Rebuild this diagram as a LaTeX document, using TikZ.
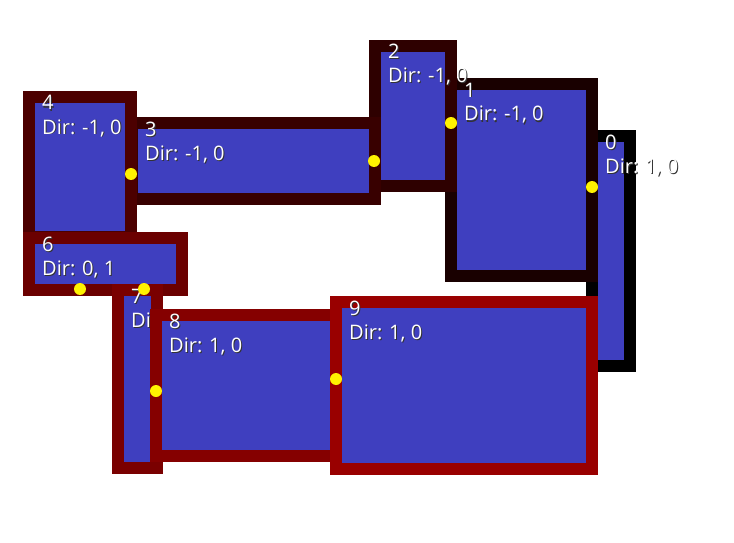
\documentclass[tikz,border=0pt]{standalone}
\usepackage{fontspec}
\setmainfont{Open Sans}
\definecolor{fillb}{HTML}{3F3FBF}
\tikzset{x=1pt,y=-1pt,
 lbl/.style={anchor=base west,inner sep=0pt,font=\fontsize{20}{20}\selectfont},
 dot/.style={circle,fill=yellow,inner sep=0pt,minimum size=12pt}}
\newcommand{\roombox}[7]{% name, x1,y1,x2,y2, color, dir
 \fill[#6] (#2-12,#3-12) rectangle (#4+12,#5+12);
 \fill[fillb] (#2,#3) rectangle (#4,#5);
 \node[lbl,black!80] at (#2+8,#3+8) {#1};
 \node[lbl,white] (n#1) at (#2+7,#3+7) {#1};
 \node[lbl,black!80] at (#2+8,#3+32) {Dir: #7};
 \node[lbl,white] (t#1) at (#2+7,#3+31) {Dir: #7};}
\begin{document}
\begin{tikzpicture}
\useasboundingbox (0,0) rectangle (734,543);
\fill[white] (0,0) rectangle (734,543);
\roombox{0}{598}{142}{624}{360}{black}{1, 0}
\roombox{1}{457}{90}{586}{270}{black!90!red}{-1, 0}
\roombox{2}{381}{52}{445}{180}{black!82!red}{-1, 0}
\roombox{3}{138}{129}{369}{193}{black!78!red}{-1, 0}
\roombox{4}{35}{103}{125}{231}{black!70!red}{-1, 0}
\roombox{6}{35}{244}{176}{284}{black!58!red}{0, 1}
\roombox{7}{124}{296}{151}{462}{black!52!red}{1, 0}
\roombox{8}{162}{321}{331}{450}{black!48!red}{1, 0}
\roombox{9}{342}{308}{586}{463}{black!40!red}{1, 0}
\node[dot] (d0) at (592,187) {};
\node[dot] (d1) at (451,123) {};
\node[dot] (d2) at (374,161) {};
\node[dot] (d3) at (131,174) {};
\node[dot] (d4) at (80,289) {};
\node[dot] (d5) at (144,289) {};
\node[dot] (d6) at (156,391) {};
\node[dot] (d7) at (336,379) {};
\end{tikzpicture}
\end{document}
